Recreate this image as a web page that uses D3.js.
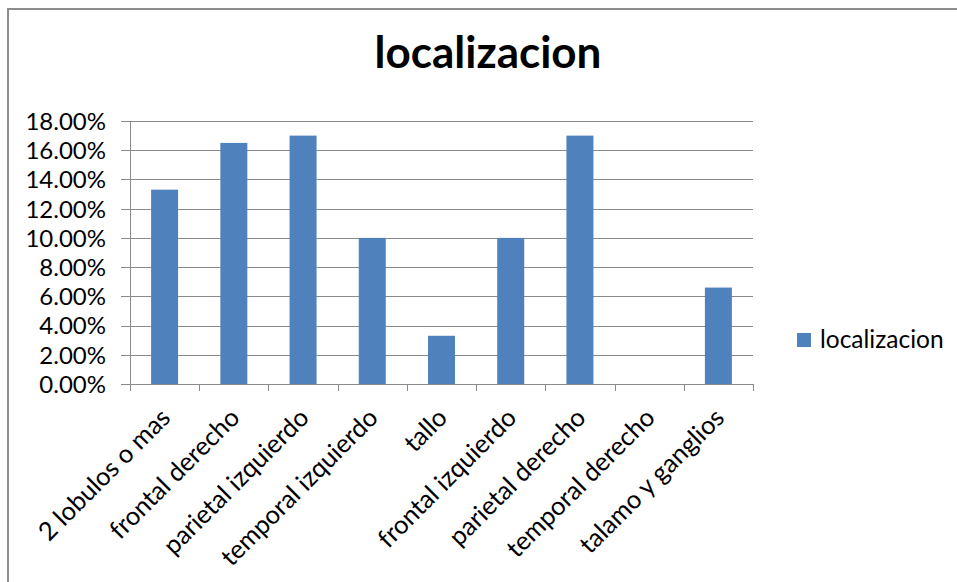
<!DOCTYPE html>
<html>
<head>
<meta charset="utf-8">
<script src="https://cdn.jsdelivr.net/npm/d3@7/dist/d3.min.js"></script>
<style>
  html, body { margin: 0; padding: 0; background: #fff; }
  svg { display: block; }
  text { font-family: Lato, "Open Sans", sans-serif; fill: #000; }
</style>
</head>
<body>
<svg id="chart" width="957" height="582"></svg>
<script>
const categories = ["2 lobulos o mas", "frontal derecho", "parietal izquierdo", "temporal izquierdo", "tallo", "frontal izquierdo", "parietal derecho", "temporal derecho", "talamo y ganglios"];
const values = [0.133, 0.165, 0.170, 0.100, 0.033, 0.100, 0.170, 0.000, 0.066];
const yTicks = [0, 0.02, 0.04, 0.06, 0.08, 0.10, 0.12, 0.14, 0.16, 0.18];
const seriesName = "localizacion";
const titleText = "localizacion";

const svg = d3.select("#chart");
const W = 957, H = 582;
const plot = { left: 130, right: 753, top: 121, bottom: 384 };
const gridColor = "#8a8a8a";
const barColor = "#4F81BD";

svg.append("rect").attr("width", W).attr("height", H).attr("fill", "#fff");
// chart frame
svg.append("rect").attr("x", 8).attr("y", 9).attr("width", 1000).attr("height", 700)
  .attr("fill", "none").attr("stroke", "#8c8c8c").attr("stroke-width", 2);

const x = d3.scaleBand().domain(categories).range([plot.left, plot.right])
  .paddingInner(0.61).paddingOuter(0.305);
const y = d3.scaleLinear().domain([0, 0.18]).range([plot.bottom, plot.top]);

// gridlines
svg.append("g").selectAll("line").data(yTicks).join("line")
  .attr("x1", plot.left - 9).attr("x2", plot.right)
  .attr("y1", d => Math.round(y(d)) + 0.5).attr("y2", d => Math.round(y(d)) + 0.5)
  .attr("stroke", gridColor).attr("stroke-width", 1);

// y axis
const yAxis = d3.axisLeft(y).tickValues(yTicks).tickSize(0).tickPadding(0)
  .tickFormat(d => (d * 100).toFixed(2) + "%");
const gy = svg.append("g").attr("transform", `translate(${plot.left - 24},0)`).call(yAxis);
gy.select(".domain").remove();
gy.selectAll("text").attr("font-size", 24).attr("font-family", "Lato").attr("fill", "#000").attr("dy", "0.35em");
svg.append("line").attr("x1", plot.left + 0.5).attr("x2", plot.left + 0.5)
  .attr("y1", plot.top).attr("y2", plot.bottom).attr("stroke", gridColor);

// bars
svg.append("g").selectAll("rect").data(values).join("rect")
  .attr("x", (d, i) => x(categories[i]))
  .attr("width", x.bandwidth())
  .attr("y", d => y(d))
  .attr("height", d => y(0) - y(d))
  .attr("fill", barColor);

// x axis line and ticks at band boundaries
svg.append("line").attr("x1", plot.left).attr("x2", plot.right)
  .attr("y1", plot.bottom + 0.5).attr("y2", plot.bottom + 0.5).attr("stroke", gridColor);
const boundaries = d3.range(categories.length + 1).map(i => plot.left + i * x.step());
svg.append("g").selectAll("line").data(boundaries).join("line")
  .attr("x1", d => Math.round(d) + 0.5).attr("x2", d => Math.round(d) + 0.5)
  .attr("y1", plot.bottom).attr("y2", plot.bottom + 7).attr("stroke", gridColor);

// x labels
svg.append("g").selectAll("text").data(categories).join("text")
  .attr("transform", d => `translate(${x(d) + x.bandwidth() / 2 + 1},${plot.bottom + 29}) rotate(-45)`)
  .attr("text-anchor", "end")
  .attr("font-size", 25.5)
  .attr("dy", "0.35em")
  .text(d => d);

// title
svg.append("text").attr("x", 488).attr("y", 68).attr("text-anchor", "middle")
  .attr("font-size", 44).attr("font-weight", "bold").text(titleText);

// legend
svg.append("rect").attr("x", 797).attr("y", 333).attr("width", 14).attr("height", 14).attr("fill", barColor);
svg.append("text").attr("x", 820).attr("y", 348).attr("font-size", 24.5).text(seriesName);
</script>
</body>
</html>
